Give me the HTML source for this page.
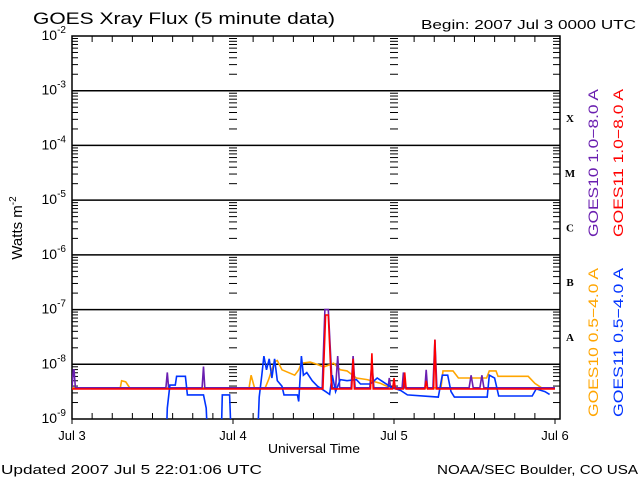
<!DOCTYPE html>
<html><head><meta charset="utf-8"><style>
html,body{margin:0;padding:0;background:#fff;}
svg{display:block;font-family:"Liberation Sans",sans-serif;}
</style></head><body>
<svg id="chart" width="640" height="480" viewBox="0 0 640 480" xmlns="http://www.w3.org/2000/svg">
<text x="33" y="24" font-size="17" fill="#000" textLength="302" lengthAdjust="spacingAndGlyphs">GOES Xray Flux (5 minute data)</text>
<text x="421" y="29" font-size="13" fill="#000" textLength="215" lengthAdjust="spacingAndGlyphs">Begin:  2007 Jul 3 0000 UTC</text>
<text transform="translate(22,228) rotate(-90)" font-size="15" text-anchor="middle" fill="#000">Watts m<tspan font-size="10" dy="-6">-2</tspan></text>
<g id="grid"></g>
<g id="axes"></g>
<g id="series"></g>
<text x="268" y="453" font-size="13" fill="#000" textLength="92" lengthAdjust="spacingAndGlyphs">Universal Time</text>
<text x="1" y="474" font-size="13" fill="#000" textLength="261" lengthAdjust="spacingAndGlyphs">Updated 2007 Jul  5 22:01:06 UTC</text>
<text x="437" y="474" font-size="13" fill="#000" textLength="201" lengthAdjust="spacingAndGlyphs">NOAA/SEC Boulder, CO USA</text>
<text transform="translate(598,237) rotate(-90)" font-size="14" fill="#6a1fb0" textLength="148" lengthAdjust="spacingAndGlyphs">GOES10 1.0−8.0 A</text>
<text transform="translate(623,237) rotate(-90)" font-size="14" fill="#ff0000" textLength="148" lengthAdjust="spacingAndGlyphs">GOES11 1.0−8.0 A</text>
<text transform="translate(598,417) rotate(-90)" font-size="14" fill="#ffa500" textLength="149" lengthAdjust="spacingAndGlyphs">GOES10 0.5−4.0 A</text>
<text transform="translate(623,417) rotate(-90)" font-size="14" fill="#0033ff" textLength="149" lengthAdjust="spacingAndGlyphs">GOES11 0.5−4.0 A</text>
</svg>
<script>
const dayLabels=["Jul 3","Jul 4","Jul 5","Jul 6"];
const decadeExp=[-2,-3,-4,-5,-6,-7,-8,-9];
const classLetters=["X","M","C","B","A"];
// times in hours since Jul 3 00:00, values log10(W/m^2)
const orangeT=[0,7.2,7.4,8.0,8.6,8.8,26.4,26.7,27.2,28.8,29.3,30.2,30.6,31.3,33.2,33.8,34.2,35.5,36.5,37.5,39,40,41,42.4,44,46,47.5,55,55.3,56.8,57.6,61.8,62.2,63.2,63.5,68,69,70,72];
const orangeV=[-8.43,-8.43,-8.3,-8.32,-8.43,-8.43,-8.43,-8.2,-8.43,-8.43,-8.28,-7.95,-7.93,-8.1,-8.2,-8.1,-7.98,-7.96,-8.0,-8.05,-7.98,-8.1,-8.12,-8.25,-8.28,-8.35,-8.43,-8.43,-8.12,-8.12,-8.25,-8.25,-8.12,-8.12,-8.22,-8.22,-8.35,-8.43,-8.43];
const blueT=[14.0,14.2,14.6,15.4,15.6,16.9,17.2,19.6,20.0,20.3,22.2,22.4,23.5,23.8,27.6,27.9,28.3,28.6,29.0,29.4,29.8,30.2,30.6,31.3,31.6,33.6,33.8,34.2,34.5,35,35.8,36.6,37.2,37.8,38.4,38.8,39.3,40,41,42.4,43,44.5,45.5,47.6,49,50,54.6,55.2,56.0,56.5,57,61.9,62.2,63.0,63.6,68.6,69.2,70.5,71.2];
const blueV=[-9.6,-8.8,-8.38,-8.38,-8.22,-8.22,-8.56,-8.56,-8.8,-9.6,-9.6,-8.56,-8.56,-9.6,-9.6,-8.6,-8.2,-7.85,-8.1,-7.9,-8.25,-7.9,-8.3,-8.4,-8.56,-8.56,-8.68,-7.85,-8.2,-8.15,-8.3,-8.4,-8.45,-8.5,-8.55,-8.2,-8.5,-8.28,-8.3,-8.28,-8.36,-8.36,-8.25,-8.42,-8.48,-8.56,-8.6,-8.2,-8.2,-8.5,-8.6,-8.6,-8.2,-8.25,-8.58,-8.58,-8.45,-8.5,-8.55];
const purpleT=[0,0.2,0.3,0.5,14.0,14.2,14.4,19.4,19.6,19.8,37.3,37.7,38.2,38.8,39.3,39.6,39.9,41.6,41.9,42.2,44.4,44.7,45.0,47.1,47.3,47.5,49.2,49.4,49.6,52.6,52.8,53.0,53.8,54.1,54.4,59.2,59.5,59.8,60.8,61.1,61.4,72];
const purpleV=[-8.43,-8.1,-8.1,-8.43,-8.43,-8.15,-8.43,-8.43,-8.04,-8.43,-8.43,-7.0,-7.0,-8.43,-8.43,-7.85,-8.43,-8.43,-7.85,-8.43,-8.43,-7.95,-8.43,-8.43,-8.25,-8.43,-8.43,-8.15,-8.43,-8.43,-8.1,-8.43,-8.43,-7.55,-8.43,-8.43,-8.2,-8.43,-8.43,-8.2,-8.43,-8.43];
const redT=[0,37.4,37.8,38.2,38.7,39,41.7,41.9,42.1,44.5,44.7,44.9,47.8,48.0,48.2,49.4,49.6,49.8,52.6,52.8,53.0,53.9,54.1,54.3,72];
const redV=[-8.45,-8.45,-7.1,-7.1,-8.45,-8.45,-8.45,-7.9,-8.45,-8.45,-7.8,-8.45,-8.45,-8.25,-8.45,-8.45,-8.15,-8.45,-8.45,-8.3,-8.45,-8.45,-7.55,-8.45,-8.45];

const NS="http://www.w3.org/2000/svg";
const L=72,R=560,T=36,B=419,DAYW=161;
const xs=h=>L+h*DAYW/24;
const ys=v=>T+(-2-v)*(B-T)/7;
function mk(tag,attrs,parent){const e=document.createElementNS(NS,tag);for(const k in attrs)e.setAttribute(k,attrs[k]);parent.appendChild(e);return e;}
const grid=document.getElementById('grid'),axes=document.getElementById('axes'),ser=document.getElementById('series');

const frame=mk('rect',{x:L,y:T,width:R-L,height:B-T,fill:'none',stroke:'#000','stroke-width':1.5},axes);



decadeExp.forEach((e,i)=>{
  const y=ys(e);
  if(e<-2&&e>-9){const ln=mk('line',{x1:L,x2:R,y1:y,y2:y,stroke:'#000','stroke-width':1.5},grid);
    
    }
  const t=mk('text',{x:66,y:y+4,'font-size':14,'text-anchor':'end',fill:'#000'},axes);
  
  
  t.textContent='10';
  const s=mk('tspan',{'font-size':10,dy:-7},t);s.textContent=String(e);
  if(e>-9){
    for(let m=2;m<=9;m++){
      const yy=ys(e-1+Math.log10(m));
      [[L,L+6],[xs(24)-4,xs(24)+4],[xs(48)-4,xs(48)+4],[R-7,R]].forEach(p=>{
        const tk=mk('line',{x1:p[0],x2:p[1],y1:yy,y2:yy,stroke:'#000','stroke-width':1},axes);
        
        
      });
    }
  }
});
for(let h=3;h<72;h+=3){
  const x=xs(h);
  if(h%24!==0){
    const a=mk('line',{x1:x,x2:x,y1:T,y2:T+6,stroke:'#000'},axes);
    
    
    const b=mk('line',{x1:x,x2:x,y1:B,y2:B-6,stroke:'#000'},axes);
    
    
  }
}
dayLabels.forEach((d,i)=>{
  const x=xs(i*24);
  const tk=mk('line',{x1:x,x2:x,y1:B,y2:B+5,stroke:'#000'},axes);
  
  
  const t=mk('text',{x:x,y:440,'font-size':13,'text-anchor':'middle',fill:'#000'},axes);
  
  
  t.textContent=d;
});
classLetters.forEach((c,i)=>{
  const t=mk('text',{x:570,y:ys(-3.5-i)+4,'font-size':11,'font-weight':'bold','font-family':'Liberation Serif,serif','text-anchor':'middle',fill:'#000'},axes);
  
  
  t.textContent=c;
});
const cp=mk('clipPath',{id:'pc'},ser);
mk('rect',{x:L,y:T,width:R-L,height:B-T},cp);
function line(T_,V_,col,name){
  const pts=T_.map((t,i)=>xs(t).toFixed(1)+','+ys(V_[i]).toFixed(1)).join(' ');
  const p=mk('polyline',{points:pts,fill:'none',stroke:col,'stroke-width':1.6,'clip-path':'url(#pc)'},ser);
  
  
}
line(orangeT,orangeV,'#ffa500','goes10-short-line');
line(purpleT,purpleV,'#6a1fb0','goes10-long-line');
line(blueT,blueV,'#0033ff','goes11-short-line');
line(redT,redV,'#ff0000','goes11-long-line');
</script>
</body></html>
